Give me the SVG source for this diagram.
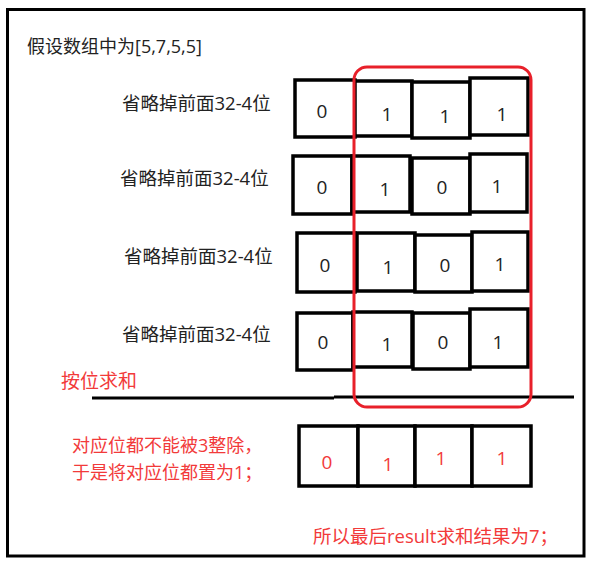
<svg xmlns="http://www.w3.org/2000/svg" width="595" height="565" viewBox="0 0 595 565">
<style>
.t{font-family:"Open Sans","Noto Sans CJK SC",sans-serif;font-size:18.5px;fill:#222}
.r{font-family:"Open Sans","Noto Sans CJK SC",sans-serif;font-size:18px;fill:#f23a3a}
.d{font-family:"Open Sans","Noto Sans CJK SC",sans-serif;font-size:19px;fill:#222;text-anchor:middle}
.dr{font-family:"Open Sans","Noto Sans CJK SC",sans-serif;font-size:19px;fill:#f23a3a;text-anchor:middle}
.b{fill:#fff;stroke:#000;stroke-width:3.5}
</style>
<rect x="0" y="0" width="595" height="565" fill="#fff"/>
<rect x="7.5" y="9.5" width="576.5" height="546.5" fill="none" stroke="#000" stroke-width="3"/>
<g id="title"><text class="t" x="27" y="53" style="font-size:18px">假设数组中为[5,7,5,5]</text></g>
<g id="row1">
<text class="t" x="122" y="110">省略掉前面32-4位</text>
<rect class="b" x="295" y="80" width="60" height="57"/>
<rect class="b" x="355" y="81" width="57" height="55"/>
<rect class="b" x="412" y="82" width="58" height="56"/>
<rect class="b" x="470" y="78" width="58" height="57"/>
<text class="d" x="322" y="118">0</text>
<text class="d" x="387" y="121">1</text>
<text class="d" x="445" y="123">1</text>
<text class="d" x="502" y="121">1</text>
</g>
<g id="row2">
<text class="t" x="120" y="185">省略掉前面32-4位</text>
<rect class="b" x="293" y="156" width="59" height="58"/>
<rect class="b" x="352" y="156" width="58" height="56"/>
<rect class="b" x="412" y="158" width="58" height="56"/>
<rect class="b" x="470" y="154" width="57" height="58"/>
<text class="d" x="322" y="194">0</text>
<text class="d" x="385" y="196">1</text>
<text class="d" x="442" y="194">0</text>
<text class="d" x="497" y="193">1</text>
</g>
<g id="row3">
<text class="t" x="124" y="263">省略掉前面32-4位</text>
<rect class="b" x="297" y="233" width="58" height="59"/>
<rect class="b" x="357" y="233" width="58" height="58"/>
<rect class="b" x="415" y="235" width="57" height="57"/>
<rect class="b" x="472" y="232" width="56" height="59"/>
<text class="d" x="325" y="272">0</text>
<text class="d" x="388" y="274">1</text>
<text class="d" x="445" y="272">0</text>
<text class="d" x="500" y="271">1</text>
</g>
<g id="row4">
<text class="t" x="122" y="341">省略掉前面32-4位</text>
<rect class="b" x="297" y="313" width="56" height="57"/>
<rect class="b" x="353" y="312" width="59" height="55"/>
<rect class="b" x="413" y="313" width="57" height="56"/>
<rect class="b" x="470" y="309" width="58" height="58"/>
<text class="d" x="323" y="349">0</text>
<text class="d" x="387" y="351">1</text>
<text class="d" x="443" y="349">0</text>
<text class="d" x="498" y="349">1</text>
</g>
<g id="connectors">
<line x1="92" y1="398" x2="334" y2="398" stroke="#000" stroke-width="3"/>
<line x1="334" y1="397" x2="574" y2="397" stroke="#000" stroke-width="3"/>
</g>
<g id="highlight"><rect x="354" y="67" width="177" height="340" rx="13" fill="none" stroke="#e8202a" stroke-width="3"/></g>
<g id="sum-label"><text class="r" x="61" y="388" style="font-size:19px">按位求和</text></g>
<g id="explain">
<text class="r" x="72" y="452">对应位都不能被3整除，</text>
<text class="r" x="72" y="479">于是将对应位都置为1；</text>
</g>
<g id="result-row">
<rect class="b" x="299" y="426" width="59" height="60"/>
<rect class="b" x="358" y="426" width="57" height="60"/>
<rect class="b" x="415" y="426" width="57" height="60"/>
<rect class="b" x="472" y="426" width="59" height="60"/>
<text class="dr" x="327" y="469">0</text>
<text class="dr" x="388" y="471">1</text>
<text class="dr" x="441" y="465">1</text>
<text class="dr" x="502" y="465">1</text>
</g>
<g id="result"><text class="r" x="313" y="543" style="font-size:18.5px">所以最后result求和结果为7；</text></g>
</svg>
